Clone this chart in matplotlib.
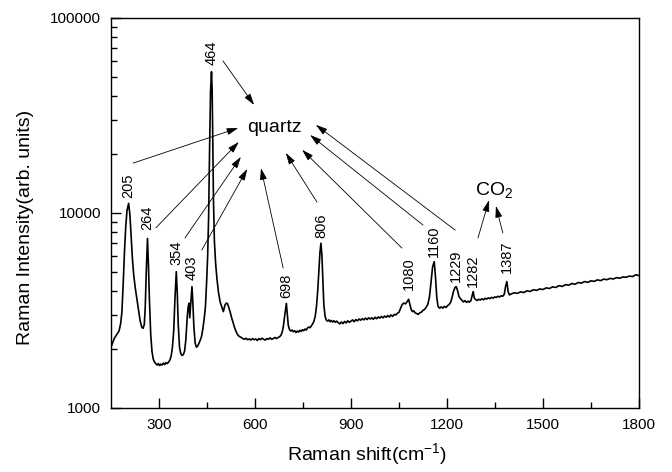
import matplotlib
matplotlib.use('Agg')
import matplotlib.pyplot as plt
from matplotlib.ticker import FixedLocator, FuncFormatter, LogLocator, NullFormatter

plt.rcParams['font.family'] = ['Liberation Sans', 'DejaVu Sans']
plt.rcParams['mathtext.default'] = 'regular'

# Raman spectrum read point by point (shift in cm-1, intensity in arb. units)
shift = [150, 155, 160, 165, 170, 175, 180, 184, 188, 192, 196, 200, 205, 209, 213, 217, 221, 226, 231, 236,
         241, 246, 250, 254, 257, 260, 264, 267, 270, 274, 278, 282, 286, 290, 294, 298, 302, 306, 310, 314,
         318, 322, 326, 330, 334, 338, 342, 346, 350, 354, 357, 360, 364, 368, 372, 376, 380, 384, 388, 391,
         394, 396, 399, 403, 406, 409, 413, 417, 421, 425, 429, 433, 437, 441, 445, 449, 452, 455, 458, 461,
         464, 466, 468, 470, 473, 477, 481, 486, 491, 496, 501, 506, 510, 514, 518, 522, 527, 532, 537, 542,
         547, 552, 557, 562, 567, 572, 577, 582, 587, 592, 597, 602, 607, 612, 617, 622, 627, 632, 637, 642,
         647, 652, 657, 662, 667, 672, 677, 681, 685, 689, 693, 698, 701, 704, 708, 712, 716, 720, 724, 728,
         732, 736, 740, 744, 748, 752, 756, 760, 764, 768, 772, 776, 780, 784, 788, 792, 796, 800, 803, 806,
         809, 812, 815, 819, 823, 827, 831, 835, 839, 843, 847, 851, 855, 860, 865, 870, 875, 880, 885, 890,
         895, 900, 905, 910, 915, 920, 925, 930, 935, 940, 945, 950, 955, 960, 965, 970, 975, 980, 985, 990,
         995, 1000, 1005, 1010, 1015, 1020, 1025, 1030, 1035, 1040, 1045, 1050, 1055, 1060, 1065, 1070, 1075, 1080, 1084, 1088,
         1092, 1096, 1100, 1105, 1110, 1115, 1120, 1125, 1130, 1135, 1140, 1145, 1150, 1155, 1160, 1164, 1168, 1172, 1177, 1182,
         1187, 1192, 1197, 1202, 1207, 1212, 1216, 1220, 1225, 1229, 1233, 1237, 1241, 1246, 1251, 1256, 1261, 1266, 1270, 1275,
         1279, 1282, 1285, 1289, 1294, 1299, 1304, 1309, 1314, 1319, 1324, 1329, 1334, 1339, 1344, 1349, 1354, 1359, 1364, 1369,
         1374, 1379, 1383, 1387, 1391, 1395, 1400, 1410, 1420, 1430, 1440, 1450, 1460, 1470, 1480, 1490, 1500, 1510, 1520, 1530,
         1540, 1550, 1560, 1570, 1580, 1590, 1600, 1610, 1620, 1630, 1640, 1650, 1660, 1670, 1680, 1690, 1700, 1710, 1720, 1730,
         1740, 1750, 1760, 1770, 1780, 1790, 1800]
intensity = [2050, 2160, 2270, 2340, 2410, 2480, 2700, 3100, 4300, 6300, 8500, 10300, 11200, 9800, 7500, 5800, 4800, 4100, 3600, 3150,
             2800, 2600, 2560, 2680, 3300, 4900, 7400, 5400, 3600, 2400, 1950, 1780, 1720, 1690, 1660, 1690, 1650, 1680, 1660, 1700,
             1670, 1710, 1690, 1720, 1760, 1850, 2050, 2500, 3700, 5000, 3900, 2700, 2050, 1900, 1860, 1880, 1960, 2250, 2900, 3300,
             3450, 2900, 3400, 4190, 3400, 2600, 2150, 2050, 2080, 2150, 2230, 2330, 2550, 2850, 3300, 4500, 6000, 9500, 21000, 42000,
             53000, 43000, 24000, 12000, 7200, 5500, 4600, 3900, 3500, 3300, 3120, 3370, 3450, 3430, 3280, 3120, 2900, 2720, 2560, 2440,
             2360, 2320, 2300, 2270, 2250, 2280, 2240, 2260, 2230, 2270, 2240, 2260, 2220, 2270, 2240, 2280, 2250, 2230, 2270, 2250,
             2290, 2250, 2270, 2300, 2270, 2300, 2320, 2360, 2450, 2650, 3000, 3440, 3000, 2650, 2520, 2480, 2510, 2460, 2490, 2440,
             2480, 2450, 2500, 2470, 2520, 2490, 2540, 2510, 2570, 2600, 2580, 2640, 2700, 2780, 2950, 3300, 4000, 5200, 6300, 7000,
             6100, 4500, 3400, 2950, 2820, 2790, 2830, 2770, 2810, 2760, 2800, 2750, 2790, 2740, 2700, 2760, 2710, 2780, 2730, 2800,
             2750, 2790, 2830, 2770, 2840, 2800, 2860, 2820, 2870, 2830, 2890, 2840, 2900, 2860, 2900, 2850, 2920, 2870, 2930, 2890,
             2950, 2900, 2960, 2920, 2980, 2930, 3000, 2950, 3020, 3000, 3060, 3100, 3250, 3400, 3450, 3420, 3500, 3610, 3400, 3200,
             3120, 3150, 3080, 3050, 3020, 3080, 3100, 3170, 3200, 3290, 3400, 3700, 4400, 5300, 5630, 4700, 3700, 3320, 3250, 3300,
             3250, 3320, 3280, 3350, 3400, 3500, 3700, 3950, 4150, 4190, 4000, 3750, 3650, 3580, 3500, 3550, 3480, 3530, 3490, 3560,
             3800, 3950, 3680, 3600, 3560, 3610, 3580, 3630, 3590, 3650, 3620, 3670, 3640, 3690, 3660, 3710, 3690, 3740, 3710, 3760,
             3740, 3830, 4200, 4450, 3950, 3800, 3840, 3900, 3870, 3940, 3910, 3990, 3960, 4040, 4010, 4080, 4050, 4130, 4100, 4180,
             4150, 4240, 4200, 4290, 4260, 4350, 4310, 4400, 4370, 4450, 4410, 4490, 4460, 4540, 4500, 4580, 4550, 4620, 4590, 4660,
             4630, 4700, 4680, 4750, 4720, 4820, 4780]

# labelled bands and the height of each label's foot
peaks = [205, 264, 354, 403, 464, 698, 806, 1080, 1160, 1229, 1282, 1387]
label_y = [12000, 8200, 5400, 4530, 57400, 3670, 7450, 4030, 5970, 4450, 4190, 4910]

# pointer arrows (tail, head) in axes fraction
quartz_arrows = [((0.042, 0.628), (0.241, 0.718)),
                 ((0.085, 0.462), (0.242, 0.682)),
                 ((0.140, 0.436), (0.246, 0.644)),
                 ((0.172, 0.405), (0.258, 0.613)),
                 ((0.212, 0.890), (0.271, 0.777)),
                 ((0.326, 0.359), (0.284, 0.615)),
                 ((0.390, 0.528), (0.331, 0.654)),
                 ((0.551, 0.410), (0.362, 0.662)),
                 ((0.591, 0.469), (0.377, 0.700)),
                 ((0.652, 0.456), (0.388, 0.726))]
co2_arrows = [((0.695, 0.436), (0.716, 0.533)),
              ((0.742, 0.449), (0.729, 0.518))]

fig = plt.figure(figsize=(6.72, 4.72), dpi=100)
ax = fig.add_axes([0.1652, 0.1356, 0.7857, 0.8263])

ax.plot(shift, intensity, color='black', lw=1.2)

ax.set_yscale('log')
ax.set_xlim(150, 1800)
ax.set_ylim(1000, 100000)

ax.xaxis.set_major_locator(FixedLocator([300, 600, 900, 1200, 1500, 1800]))
ax.xaxis.set_minor_locator(FixedLocator([450, 750, 1050, 1350, 1650]))
ax.yaxis.set_major_locator(FixedLocator([1000, 10000, 100000]))
ax.yaxis.set_major_formatter(FuncFormatter(lambda v, p: '%d' % v))
ax.yaxis.set_minor_locator(LogLocator(base=10, subs=range(2, 10)))
ax.yaxis.set_minor_formatter(NullFormatter())

ax.tick_params(which='both', direction='in', top=False, right=False, width=1.0, labelsize=11)
ax.tick_params(which='major', length=7, pad=7)
ax.tick_params(which='minor', length=4)
for s in ax.spines.values():
    s.set_linewidth(1.0)

ax.set_xlabel(r'Raman shift(cm$^{-1}$)', fontsize=14)
ax.set_ylabel('Raman Intensity(arb. units)', fontsize=14)
ax.xaxis.set_label_coords(0.485, -0.085)
ax.yaxis.set_label_coords(-0.146, 0.464)

for p, y in zip(peaks, label_y):
    ax.text(p, y, str(p), rotation=90, ha='center', va='bottom', fontsize=10.5)

ax.text(0.309, 0.718, 'quartz', transform=ax.transAxes, ha='center', va='center', fontsize=14)
ax.text(0.725, 0.559, r'CO$_2$', transform=ax.transAxes, ha='center', va='center', fontsize=14)

arrow_style = dict(arrowstyle='-|>,head_length=0.5,head_width=0.15', color='black',
                   lw=0.6, shrinkA=0, shrinkB=0, mutation_scale=14)
for tail, head in quartz_arrows + co2_arrows:
    ax.annotate('', xy=head, xytext=tail, xycoords='axes fraction',
                textcoords='axes fraction', arrowprops=arrow_style)

fig.savefig('out.png', dpi=100)
